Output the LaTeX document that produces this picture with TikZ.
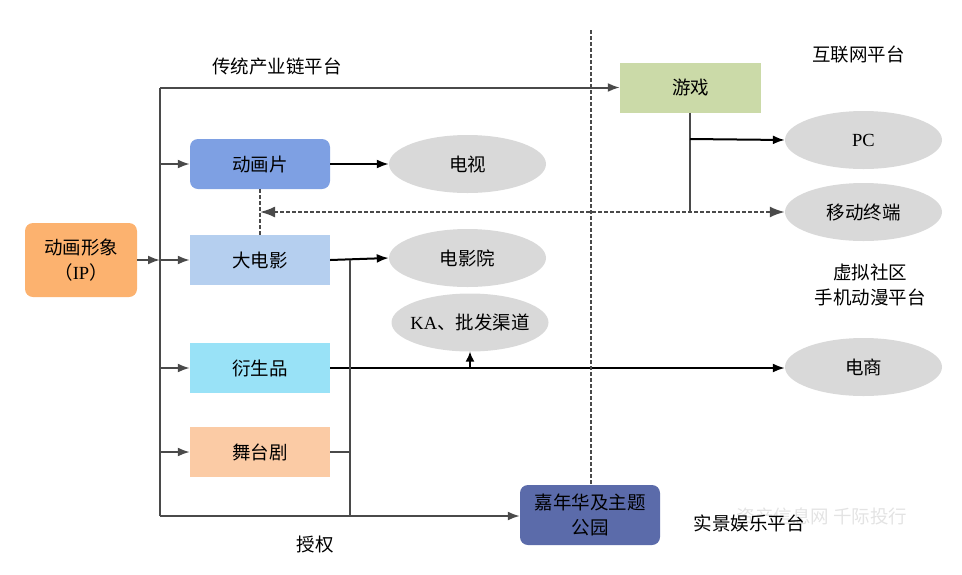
\documentclass[tikz,border=0pt]{standalone}
\usepackage{fontspec}
\setmainfont{Noto Sans CJK SC}
\newfontfamily\latinserif{Liberation Serif}
\usetikzlibrary{arrows.meta}
\usetikzlibrary{shapes.geometric}
\usetikzlibrary{calc}
\definecolor{linegray}{HTML}{4A4A4A}
\definecolor{ovalgray}{HTML}{D9D9D9}

\begin{document}
\begin{tikzpicture}[x=1pt,y=-1pt,font=\fontsize{18.5pt}{25pt}\selectfont]
\tikzstyle{block}=[draw=none,minimum width=140pt,minimum height=50pt,inner sep=0pt,align=center]
\tikzstyle{rblock}=[block,rounded corners=8pt]
\tikzstyle{oval}=[ellipse,fill=ovalgray,draw=none,minimum width=157pt,minimum height=58pt,inner sep=0pt]
\tikzstyle{caption}=[inner sep=0pt,align=center]
\tikzstyle{line}=[draw=linegray,line width=2pt]
\tikzstyle{grayarrow}=[line,-{Latex[length=12pt,width=9pt]}]
\tikzstyle{blackarrow}=[draw=black,line width=2pt,-{Latex[length=12pt,width=9pt]}]
\tikzstyle{dashline}=[draw=linegray,line width=2pt,dash pattern=on 3.5pt off 2.5pt]
\useasboundingbox (0,0) rectangle (962,574);
% boxes
\node [rblock,fill={rgb,255:red,252;green,178;blue,111},minimum width=112pt,minimum height=74pt] (ip) at (81,260) {动画形象\\（{\latinserif IP}）};
\node [rblock,fill={rgb,255:red,126;green,160;blue,227}] (anim) at (260,164) {动画片};
\node [block,fill={rgb,255:red,181;green,207;blue,239}] (film) at (260,260) {大电影};
\node [block,fill={rgb,255:red,153;green,226;blue,247}] (deriv) at (260,368) {衍生品};
\node [block,fill={rgb,255:red,251;green,203;blue,165}] (stage) at (260,452) {舞台剧};
\node [block,fill={rgb,255:red,203;green,218;blue,168},minimum width=141pt] (game) at (690.5,87.5) {游戏};
\node [rblock,fill={rgb,255:red,91;green,107;blue,170},minimum height=60pt] (park) at (590,515) {嘉年华及主题\\公园};
% ovals
\node [oval] (tv) at (467.5,164) {电视};
\node [oval] (cinema) at (467.5,258) {电影院};
\node [oval] (ka) at (470,322.5) {\makebox[100pt][c]{{\latinserif KA}、批发渠道}};
\node [oval] (pc) at (863.5,140) {{\latinserif PC}};
\node [oval] (mobile) at (863.5,212) {移动终端};
\node [oval] (shop) at (863.5,367) {电商};
% captions
\node [caption] (chain) at (277,66) {传统产业链平台};
\node [caption] (net) at (858.5,55) {互联网平台};
\node [caption] (virtual) at (870,285) {虚拟社区\\手机动漫平台};
\node [caption] (license) at (315,545) {授权};
\node [caption,text=black!11] (mark) at (822,516) {资产信息网 千际投行};
\node [caption] (real) at (749,523) {实景娱乐平台};
% junctions
\coordinate (bustop) at (160,87.5);
\coordinate (busbot) at (160,516);
\coordinate (split) at (350,260);
\coordinate (splitbot) at (350,516);
\coordinate (gamepc) at (690,139);
\coordinate (gamedash) at (690,212);
\coordinate (filmdash) at (260,212);
\coordinate (sepup) at (591,30);
\coordinate (kafoot) at (470,368);
% bus
\draw [grayarrow] (ip.east) -- (ip.east -| bustop);
\draw [line] (busbot) -- (bustop);
\draw [grayarrow] (bustop) -- (game.west);
\draw [grayarrow] (bustop |- anim.west) -- (anim.west);
\draw [grayarrow] (bustop |- film.west) -- (film.west);
\draw [grayarrow] (bustop |- deriv.west) -- (deriv.west);
\draw [grayarrow] (bustop |- stage.west) -- (stage.west);
\draw [grayarrow] (busbot) -- (busbot -| park.west);
% right of the boxes
\draw [blackarrow] (anim.east) -- (tv.west);
\draw [blackarrow] (film.east) -- (cinema.west);
\draw [blackarrow] (deriv.east) -- (shop.west |- deriv.east);
\draw [blackarrow,line width=1.5pt,-{Latex[length=10pt,width=9pt]}] (kafoot) -- (ka.south -| kafoot);
\draw [line] (split) -- (splitbot);
\draw [line] (stage.east) -- (stage.east -| split);
% game
\draw [line] (game.south -| gamepc) -- (gamedash);
\draw [blackarrow] (gamepc) -- (pc.west);
% dashed
\draw [dashline] (anim.south) -- (film.north);
\draw [dashline,{Latex[length=15pt,width=11pt]}-{Latex[length=15pt,width=11pt]}] (filmdash) -- (mobile.west);
\draw [dashline] (sepup) -- (sepup |- park.north);
\end{tikzpicture}
\end{document}
